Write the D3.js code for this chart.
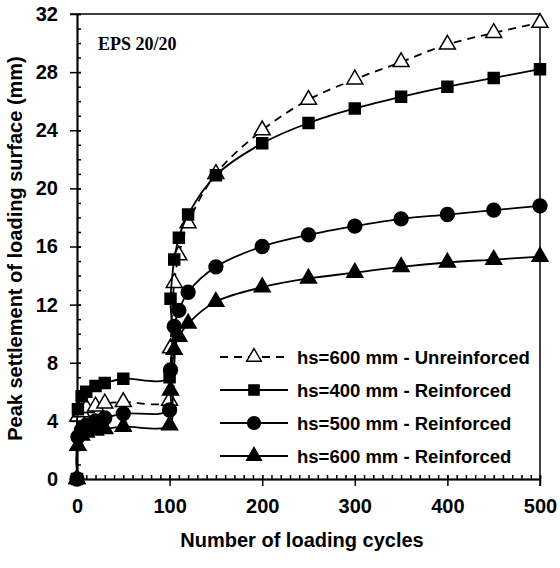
<!DOCTYPE html>
<html><head><meta charset="utf-8">
<script src="https://cdn.jsdelivr.net/npm/d3@7"></script>
<style>
html,body{margin:0;padding:0;background:#fff;}
text{font-family:"Liberation Sans",Arial,sans-serif;font-weight:bold;fill:#000;}
</style></head>
<body>
<svg id="c" width="560" height="568"></svg>
<script>
const cycles = [0, 1, 5, 10, 20, 30, 50, 100, 101, 105, 110, 120, 150, 200, 250, 300, 350, 400, 450, 500];
const unreinf600 = [0, 4.3, 4.6, 4.9, 5.0, 5.2, 5.3, 5.4, 9.0, 13.5, 15.4, 17.6, 21.0, 24.0, 26.1, 27.5, 28.7, 29.9, 30.7, 31.4];
const reinf400 = [0, 4.8, 5.7, 6.0, 6.4, 6.6, 6.9, 7.0, 12.4, 15.1, 16.6, 18.2, 20.9, 23.1, 24.5, 25.5, 26.3, 27.0, 27.6, 28.2];
const reinf500 = [0, 2.9, 3.4, 3.7, 4.0, 4.2, 4.5, 4.75, 7.5, 10.5, 11.6, 12.85, 14.6, 16.0, 16.8, 17.4, 17.9, 18.2, 18.5, 18.8];
const reinf600 = [0, 2.3, 3.0, 3.2, 3.35, 3.45, 3.6, 3.7, 6.1, 8.9, 9.8, 10.7, 12.2, 13.2, 13.8, 14.2, 14.6, 14.9, 15.1, 15.3];
const seriesNames = ["hs=600 mm - Unreinforced", "hs=400 mm - Reinforced", "hs=500 mm - Reinforced", "hs=600 mm - Reinforced"];
const xTicks = [0, 100, 200, 300, 400, 500];
const yTicks = [0, 4, 8, 12, 16, 20, 24, 28, 32];
const xTitle = "Number of loading cycles";
const yTitle = "Peak settlement of loading surface (mm)";
const noteText = "EPS 20/20";

const svg = d3.select("#c");
const L = 77, R = 540, T = 14, B = 479;
const x = d3.scaleLinear().domain([0, 500]).range([L, R]);
const y = d3.scaleLinear().domain([0, 32]).range([B, T]);

// frame (top & right)
svg.append("line").attr("x1", L - 7).attr("x2", R).attr("y1", T).attr("y2", T).attr("stroke", "#000").attr("stroke-width", 1.5);
svg.append("line").attr("x1", R).attr("x2", R).attr("y1", T).attr("y2", B + 7).attr("stroke", "#000").attr("stroke-width", 1.5);

// axes
const xMinor = d3.range(0, 501, 10);
const yMinor = d3.range(0, 33, 1);
const gx = svg.append("g").attr("transform", `translate(0,${B})`);
gx.call(d3.axisBottom(x).tickValues(xMinor).tickSizeInner(-4).tickSizeOuter(0).tickFormat(""));
gx.append("g").call(d3.axisBottom(x).tickValues(xTicks).tickSizeInner(-4).tickSizeOuter(0).tickFormat(""));
gx.append("g").call(d3.axisBottom(x).tickValues(xTicks).tickSizeInner(7).tickSizeOuter(0).tickPadding(13).tickFormat(d3.format("d")));
const gy = svg.append("g").attr("transform", `translate(${L},0)`);
gy.call(d3.axisLeft(y).tickValues(yMinor).tickSizeInner(-4).tickSizeOuter(0).tickFormat(""));
gy.append("g").call(d3.axisLeft(y).tickValues(yTicks).tickSizeInner(-4).tickSizeOuter(0).tickFormat(""));
gy.append("g").call(d3.axisLeft(y).tickValues(yTicks).tickSizeInner(7).tickSizeOuter(0).tickPadding(12).tickFormat(d3.format("d")));
svg.selectAll(".domain").attr("stroke", "#000").attr("stroke-width", 1.5);
svg.selectAll(".tick line").attr("stroke", "#000").attr("stroke-width", 1.5);
svg.selectAll(".tick text").style("font-size", "20px").style("font-family", "Liberation Sans, Arial, sans-serif").style("font-weight", "bold");

// series
const series = [
  {name: seriesNames[0], vals: unreinf600, dash: "8,6", sym: d3.symbolTriangle, fill: "#fff", size: 110},
  {name: seriesNames[1], vals: reinf400, dash: null, sym: d3.symbolSquare, fill: "#000", size: 120},
  {name: seriesNames[2], vals: reinf500, dash: null, sym: d3.symbolCircle, fill: "#000", size: 150},
  {name: seriesNames[3], vals: reinf600, dash: null, sym: d3.symbolTriangle, fill: "#000", size: 110}
];
const line = d3.line().x((d, i) => x(cycles[i])).y(d => y(d)).curve(d3.curveCatmullRom.alpha(0.5));

series.forEach(s => {
  svg.append("path").attr("d", line(s.vals)).attr("fill", "none").attr("stroke", "#000")
    .attr("stroke-width", 1.8).attr("stroke-dasharray", s.dash);
  svg.append("g").selectAll("path").data(s.vals).join("path")
    .attr("transform", (d, i) => `translate(${x(cycles[i])},${y(d)})`)
    .attr("d", d3.symbol().type(s.sym).size(s.size))
    .attr("fill", s.fill).attr("stroke", "#000").attr("stroke-width", 1.5);
});

// note
svg.append("text").attr("x", 98).attr("y", 50).text(noteText)
  .style("font-family", "Liberation Serif, Times New Roman, serif").style("font-size", "18px");

// legend
const lg = svg.append("g");
series.forEach((s, i) => {
  const yy = 357 + i * 33;
  lg.append("line").attr("x1", 220).attr("x2", 288).attr("y1", yy).attr("y2", yy)
    .attr("stroke", "#000").attr("stroke-width", 1.8).attr("stroke-dasharray", s.dash);
  lg.append("path").attr("transform", `translate(254,${yy})`)
    .attr("d", d3.symbol().type(s.sym).size(s.size * 0.85))
    .attr("fill", s.fill).attr("stroke", "#000").attr("stroke-width", 1.5);
  lg.append("text").attr("x", 297).attr("y", yy).attr("dy", "0.36em").text(s.name).style("font-size", "18.5px");
});

// titles
svg.append("text").attr("x", 302).attr("y", 547).attr("text-anchor", "middle").text(xTitle).style("font-size", "20px");
svg.append("text").attr("transform", `translate(22,${(T + B) / 2 + 2}) rotate(-90)`).attr("text-anchor", "middle").text(yTitle).style("font-size", "20px");
</script>
</body></html>
